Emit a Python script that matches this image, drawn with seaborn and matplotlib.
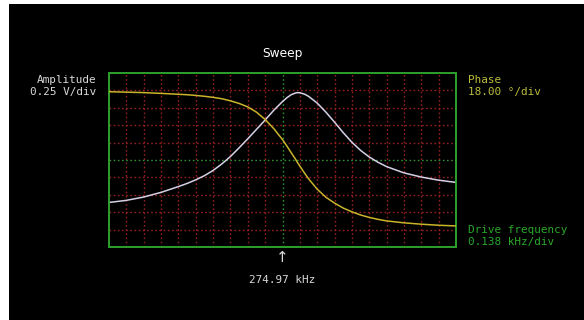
import matplotlib
matplotlib.use("Agg")
import matplotlib.pyplot as plt
import seaborn as sns
import pandas as pd
from matplotlib.patches import Rectangle

# sweep readings (frequency in kHz)
freq_khz = [273.590, 273.728, 273.866, 274.004, 274.142, 274.211, 274.280, 274.349,
            274.418, 274.487, 274.556, 274.625, 274.694, 274.763, 274.832, 274.901,
            274.970, 275.005, 275.039, 275.074, 275.087, 275.108, 275.143, 275.177,
            275.246, 275.315, 275.384, 275.453, 275.522, 275.591, 275.660, 275.729,
            275.798, 275.936, 276.074, 276.212, 276.350]
amplitude_v = [0.640, 0.670, 0.718, 0.785, 0.868, 0.913, 0.965, 1.025,
               1.100, 1.193, 1.300, 1.425, 1.555, 1.690, 1.825, 1.965,
               2.090, 2.145, 2.188, 2.213, 2.218, 2.215, 2.198, 2.165,
               2.068, 1.938, 1.793, 1.643, 1.505, 1.388, 1.293, 1.218,
               1.155, 1.065, 1.005, 0.960, 0.928]
phase_deg = [-19.4, -19.8, -20.3, -21.1, -22.0, -22.5, -23.2, -24.1,
             -25.2, -26.6, -28.8, -31.5, -35.1, -40.5, -48.1, -57.6,
             -68.9, -75.6, -82.4, -89.3, -92.2, -96.3, -103.1, -109.4,
             -120.2, -128.5, -134.6, -139.7, -143.6, -146.9, -149.4, -151.4,
             -153.0, -155.0, -156.4, -157.5, -158.2]

center_khz = 274.97
khz_per_div = 0.138
v_per_div = 0.25
deg_per_div = 18.0

df = pd.DataFrame({"freq": freq_khz, "amp": amplitude_v, "phase": phase_deg})

sns.set_style("dark")
W, H = 584, 320
fig = plt.figure(figsize=(W / 100, H / 100), dpi=100)
fig.patch.set_facecolor("white")
fig.patches.append(Rectangle((9 / W, 0), 1, 1 - 4 / H, transform=fig.transFigure,
                             facecolor="black", edgecolor="none", zorder=-10))

x0, x1, y0, y1 = 109, 456, 73, 247
ax = fig.add_axes([x0 / W, 1 - y1 / H, (x1 - x0) / W, (y1 - y0) / H])
ax.set_facecolor("black")
xmin = center_khz - 10 * khz_per_div
xmax = center_khz + 10 * khz_per_div
ax.set_xlim(xmin, xmax)
ax.set_ylim(0, 10 * v_per_div)

red = "#961f1f"
green = "#2f8f2f"
for i in range(1, 20):
    ax.axvline(xmin + i * khz_per_div, color=green if i == 10 else red,
               lw=1.0, ls=(0, (1.2, 1.8)), zorder=1)
for j in range(1, 10):
    ax.axhline(j * v_per_div, color=green if j == 5 else red,
               lw=1.0, ls=(0, (1.2, 1.8)), zorder=1)

ax2 = ax.twinx()
ax2.set_ylim(-10 * deg_per_div, 0)

sns.lineplot(data=df, x="freq", y="amp", ax=ax, color="#d6d0e6", lw=1.1, zorder=3)
sns.lineplot(data=df, x="freq", y="phase", ax=ax2, color="#c9b42a", lw=1.1, zorder=3)

for a in (ax, ax2):
    a.set_xticks([])
    a.set_yticks([])
    a.set_xlabel("")
    a.set_ylabel("")
    a.grid(False)
    for s in a.spines.values():
        s.set_visible(True)
        s.set_color("#2ea02e")
        s.set_linewidth(1.2)
ax2.patch.set_visible(False)

def ftext(x, y, s, **kw):
    fig.text(x / W, 1 - y / H, s, va="center", **kw)

mono = "DejaVu Sans Mono"
fs = 7.9
ftext(282, 53, "Sweep", ha="center", color="white", fontsize=8.8, family="DejaVu Sans")
ftext(96, 80, "Amplitude", ha="right", color="#d8d8d8", fontsize=fs, family=mono)
ftext(96, 92, "0.25 V/div", ha="right", color="#d8d8d8", fontsize=fs, family=mono)
ftext(468, 80, "Phase", ha="left", color="#bcbc3c", fontsize=fs, family=mono)
ftext(468, 92, "18.00 °/div", ha="left", color="#bcbc3c", fontsize=fs, family=mono)
ftext(468, 230, "Drive frequency", ha="left", color="#2aa82a", fontsize=fs, family=mono)
ftext(468, 242, "0.138 kHz/div", ha="left", color="#2aa82a", fontsize=fs, family=mono)
ftext(282, 257, "↑", ha="center", color="#d8d8d8", fontsize=11, family="DejaVu Sans")
ftext(282, 280, "274.97 kHz", ha="center", color="#d8d8d8", fontsize=fs, family=mono)

fig.savefig("out.png", dpi=100, facecolor=fig.get_facecolor())
